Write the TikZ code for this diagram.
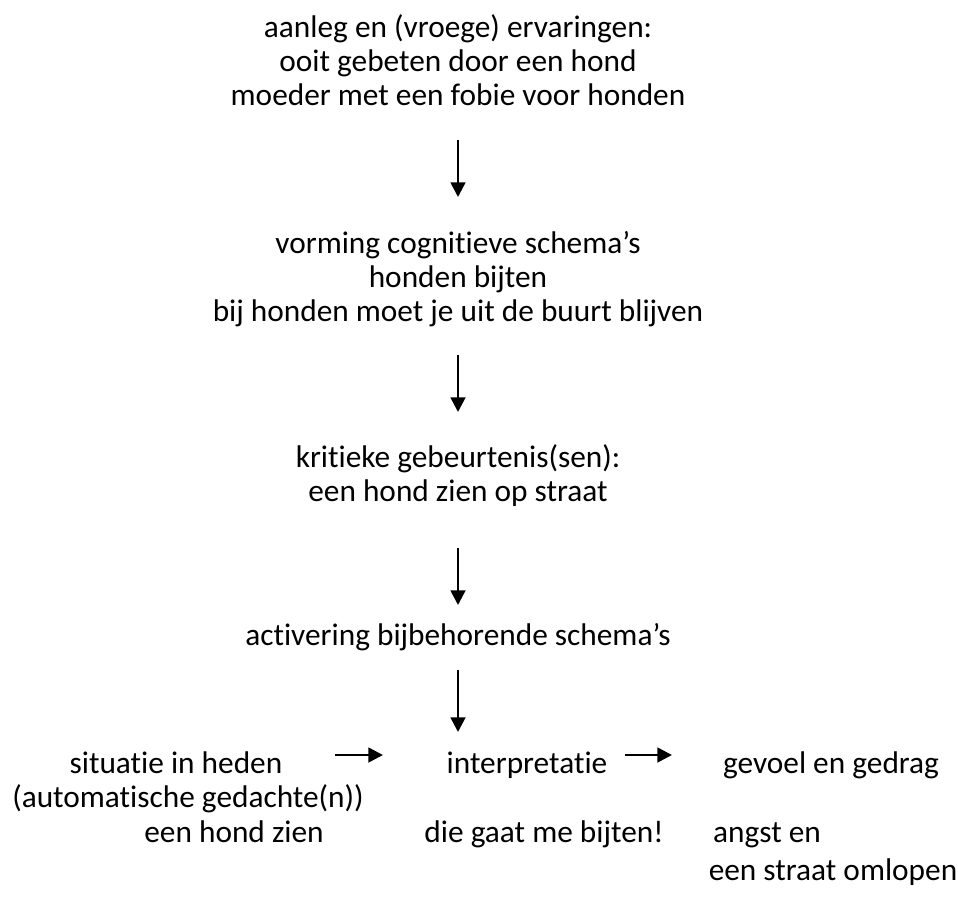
\documentclass[tikz,border=0pt]{standalone}
\usepackage{fontspec}
\setmainfont[Ligatures=NoCommon]{Carlito}
\usetikzlibrary{arrows.meta}

\tikzset{every picture/.style={line width=0.75pt}}
\tikzset{
  txt/.style={inner sep=0.75pt, align=center, font=\fontsize{23.5}{25.5}\selectfont},
  oneline/.style={txt, text height=16pt, text depth=5pt},
  flow/.style={line width=2pt, -{Triangle[length=11pt,width=11pt]}}
}

\begin{document}
\begin{tikzpicture}[x=0.75pt,y=0.75pt,yscale=-1,xscale=1]
\useasboundingbox (0,0) rectangle (958,900);

% Text Node
\node [txt] (ervaring) at (458,60) {aanleg en (vroege) ervaringen:\\ooit gebeten door een hond\\moeder met een fobie voor honden};
% Text Node
\node [txt] (schema) at (458,279) {vorming cognitieve schema's\\honden bijten\\bij honden moet je uit de buurt blijven};
% Text Node
\node [txt] (kritiek) at (458,476) {kritieke gebeurtenis(sen):\\een hond zien op straat};
% Text Node
\node [oneline] (activering) at (458,638) {activering bijbehorende schema's};
% Text Node
\node [oneline] (situatie) at (176,766) {situatie in heden};
% Text Node
\node [oneline] (interpretatie) at (527,766) {interpretatie};
% Text Node
\node [oneline] (gevoel) at (831,766) {gevoel en gedrag};
% Text Node
\node [oneline] (gedachte) at (188,800) {(automatische gedachte(n))};
% Text Node
\node [oneline] (hond) at (234,835) {een hond zien};
% Text Node
\node [oneline] (bijten) at (544,835) {die gaat me bijten!};
% Text Node
\node [oneline] (angst) at (767,835) {angst en};
% Text Node
\node [oneline] (omlopen) at (833,873) {een straat omlopen};

% Arrows
\draw [flow, shorten <=60pt, shorten >=61.5pt] (ervaring.center) -- (schema.center);
\draw [flow, shorten <=57pt, shorten >=48pt] (schema.center) -- (kritiek.center);
\draw [flow, shorten <=54pt, shorten >=24.75pt] (kritiek.center) -- (activering.center);
\draw [flow, shorten <=24pt, shorten >=25.5pt] (activering.center) -- (activering.center |- interpretatie.center);
\draw [flow, shorten <=119.25pt, shorten >=108pt] ([yshift=-8.25pt]situatie.center) -- ([yshift=-8.25pt]interpretatie.center);
\draw [flow, shorten <=73.5pt, shorten >=119.25pt] ([yshift=-8.25pt]interpretatie.center) -- ([yshift=-8.25pt]gevoel.center);

\end{tikzpicture}
\end{document}
